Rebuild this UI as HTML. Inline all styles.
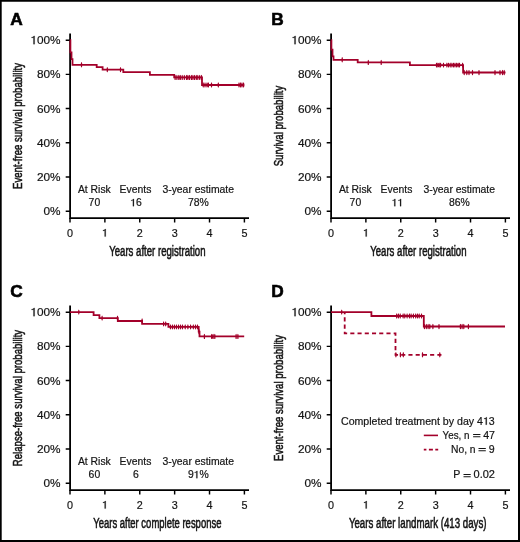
<!DOCTYPE html>
<html><head><meta charset="utf-8"><style>
html,body{margin:0;padding:0;background:#fff;}
body{width:520px;height:542px;overflow:hidden;}
svg{display:block;font-family:"Liberation Sans", sans-serif;will-change:transform;}
.r{fill:#141414;stroke:#141414;stroke-width:0.2px;}
.h{fill-opacity:0;stroke-opacity:0;}
</style></head><body>
<svg width="520" height="542" viewBox="0 0 520 542">
<rect width="520" height="542" fill="#fff"/>
<g transform="translate(0,0)">
<text x="10.2" y="24.8" font-weight="bold" font-size="17.3" fill="#000" stroke="#000" stroke-width="0.6">A</text>
<path d="M70.1,33.4 V218.95 M69.2,218.05 H249" stroke="#000" stroke-width="1.8" fill="none"/>
<path d="M65.7,40.15 H70 M65.7,74.35 H70 M65.7,108.55 H70 M65.7,142.75 H70 M65.7,176.95 H70 M65.7,211.15 H70 M70.00,218 V222.5 M104.88,218 V222.5 M139.76,218 V222.5 M174.64,218 V222.5 M209.52,218 V222.5 M244.40,218 V222.5" stroke="#000" stroke-width="1.45" fill="none"/>
<text x="30.42" y="44.15" font-size="11.8" class="r" text-anchor="start"><tspan class="h">1</tspan>00%</text><polygon points="33.44,44.15 34.64,44.15 34.64,35.89 33.82,35.89 33.61,36.36 33.18,36.74 32.50,37.00 31.60,37.16 31.60,37.92 32.66,37.75 33.44,37.45" class="r"/>
<text x="60.60" y="78.35" font-size="11.8" class="r" text-anchor="end">80%</text>
<text x="60.60" y="112.55" font-size="11.8" class="r" text-anchor="end">60%</text>
<text x="60.60" y="146.75" font-size="11.8" class="r" text-anchor="end">40%</text>
<text x="60.60" y="180.95" font-size="11.8" class="r" text-anchor="end">20%</text>
<text x="60.60" y="215.15" font-size="11.8" class="r" text-anchor="end">0%</text>
<text x="70.00" y="236.60" font-size="10.8" class="r" text-anchor="middle">0</text>
<text x="101.88" y="236.60" font-size="10.8" class="r" text-anchor="start"><tspan class="h">1</tspan></text><polygon points="104.64,236.60 105.74,236.60 105.74,229.04 104.99,229.04 104.79,229.47 104.40,229.82 103.78,230.06 102.96,230.21 102.96,230.90 103.93,230.75 104.64,230.47" class="r"/>
<text x="139.76" y="236.60" font-size="10.8" class="r" text-anchor="middle">2</text>
<text x="174.64" y="236.60" font-size="10.8" class="r" text-anchor="middle">3</text>
<text x="209.52" y="236.60" font-size="10.8" class="r" text-anchor="middle">4</text>
<text x="244.40" y="236.60" font-size="10.8" class="r" text-anchor="middle">5</text>
<text x="157.35" y="256.3" text-anchor="middle" font-size="14" fill="#141414" stroke="#141414" stroke-width="0.55" textLength="96.3" lengthAdjust="spacingAndGlyphs">Years after registration</text>
<text transform="translate(21.6,126.0) rotate(-90)" x="0" y="0" text-anchor="middle" font-size="13.4" fill="#141414" stroke="#141414" stroke-width="0.55" textLength="126" lengthAdjust="spacingAndGlyphs">Event-free survival probability</text>
</g>
<g transform="translate(0,0)" font-size="10.4" class="r" text-anchor="middle">
<text x="94.35" y="193.3">At Risk</text>
<text x="135.5" y="193.3">Events</text>
<text x="198.2" y="193.3">3-year estimate</text>
<text x="94.40" y="206.20" font-size="10.4" class="r" text-anchor="middle">70</text>
<text x="130.22" y="206.20" font-size="10.4" class="r" text-anchor="start"><tspan class="h">1</tspan>6</text><polygon points="132.88,206.20 133.94,206.20 133.94,198.92 133.21,198.92 133.02,199.34 132.65,199.67 132.05,199.90 131.26,200.04 131.26,200.71 132.19,200.56 132.88,200.29" class="r"/>
<text x="198.30" y="206.20" font-size="10.4" class="r" text-anchor="middle">78%</text>
</g>
<path d="M70,40.15 H70.4 V52.4 H71.5 V59.1 H72.5 V64.8 H96.7 V67.2 H102.6 V69.6 H123.3 V72.1 H149.9 V74.8 H174.2 V77.4 H202 V85 H244.2" stroke="#a3002a" stroke-width="1.8" fill="none"/>
<path d="M80.75,64.80 a0.75,2.7 0 1,0 1.50,0 a0.75,2.7 0 1,0 -1.50,0Z M106.55,69.60 a0.75,2.7 0 1,0 1.50,0 a0.75,2.7 0 1,0 -1.50,0Z M119.75,69.60 a0.75,2.7 0 1,0 1.50,0 a0.75,2.7 0 1,0 -1.50,0Z M174.35,77.40 a0.75,2.7 0 1,0 1.50,0 a0.75,2.7 0 1,0 -1.50,0Z M176.15,77.40 a0.75,2.7 0 1,0 1.50,0 a0.75,2.7 0 1,0 -1.50,0Z M178.05,77.40 a0.75,2.7 0 1,0 1.50,0 a0.75,2.7 0 1,0 -1.50,0Z M179.55,77.40 a0.75,2.7 0 1,0 1.50,0 a0.75,2.7 0 1,0 -1.50,0Z M181.45,77.40 a0.75,2.7 0 1,0 1.50,0 a0.75,2.7 0 1,0 -1.50,0Z M183.55,77.40 a0.75,2.7 0 1,0 1.50,0 a0.75,2.7 0 1,0 -1.50,0Z M185.75,77.40 a0.75,2.7 0 1,0 1.50,0 a0.75,2.7 0 1,0 -1.50,0Z M187.15,77.40 a0.75,2.7 0 1,0 1.50,0 a0.75,2.7 0 1,0 -1.50,0Z M188.75,77.40 a0.75,2.7 0 1,0 1.50,0 a0.75,2.7 0 1,0 -1.50,0Z M190.65,77.40 a0.75,2.7 0 1,0 1.50,0 a0.75,2.7 0 1,0 -1.50,0Z M192.15,77.40 a0.75,2.7 0 1,0 1.50,0 a0.75,2.7 0 1,0 -1.50,0Z M193.75,77.40 a0.75,2.7 0 1,0 1.50,0 a0.75,2.7 0 1,0 -1.50,0Z M195.55,77.40 a0.75,2.7 0 1,0 1.50,0 a0.75,2.7 0 1,0 -1.50,0Z M197.05,77.40 a0.75,2.7 0 1,0 1.50,0 a0.75,2.7 0 1,0 -1.50,0Z M198.95,77.40 a0.75,2.7 0 1,0 1.50,0 a0.75,2.7 0 1,0 -1.50,0Z M200.75,77.40 a0.75,2.7 0 1,0 1.50,0 a0.75,2.7 0 1,0 -1.50,0Z M202.45,85.00 a0.75,2.7 0 1,0 1.50,0 a0.75,2.7 0 1,0 -1.50,0Z M204.25,85.00 a0.75,2.7 0 1,0 1.50,0 a0.75,2.7 0 1,0 -1.50,0Z M206.25,85.00 a0.75,2.7 0 1,0 1.50,0 a0.75,2.7 0 1,0 -1.50,0Z M207.65,85.00 a0.75,2.7 0 1,0 1.50,0 a0.75,2.7 0 1,0 -1.50,0Z M210.75,85.00 a0.75,2.7 0 1,0 1.50,0 a0.75,2.7 0 1,0 -1.50,0Z M217.55,85.00 a0.75,2.7 0 1,0 1.50,0 a0.75,2.7 0 1,0 -1.50,0Z M238.25,85.00 a0.75,2.7 0 1,0 1.50,0 a0.75,2.7 0 1,0 -1.50,0Z M239.75,85.00 a0.75,2.7 0 1,0 1.50,0 a0.75,2.7 0 1,0 -1.50,0Z M241.25,85.00 a0.75,2.7 0 1,0 1.50,0 a0.75,2.7 0 1,0 -1.50,0Z M242.85,85.00 a0.75,2.7 0 1,0 1.50,0 a0.75,2.7 0 1,0 -1.50,0Z" fill="#a3002a"/>
<g transform="translate(261,0)">
<text x="10.2" y="24.8" font-weight="bold" font-size="17.3" fill="#000" stroke="#000" stroke-width="0.6">B</text>
<path d="M70.1,33.4 V218.95 M69.2,218.05 H249" stroke="#000" stroke-width="1.8" fill="none"/>
<path d="M65.7,40.15 H70 M65.7,74.35 H70 M65.7,108.55 H70 M65.7,142.75 H70 M65.7,176.95 H70 M65.7,211.15 H70 M70.00,218 V222.5 M104.88,218 V222.5 M139.76,218 V222.5 M174.64,218 V222.5 M209.52,218 V222.5 M244.40,218 V222.5" stroke="#000" stroke-width="1.45" fill="none"/>
<text x="30.42" y="44.15" font-size="11.8" class="r" text-anchor="start"><tspan class="h">1</tspan>00%</text><polygon points="33.44,44.15 34.64,44.15 34.64,35.89 33.82,35.89 33.61,36.36 33.18,36.74 32.50,37.00 31.60,37.16 31.60,37.92 32.66,37.75 33.44,37.45" class="r"/>
<text x="60.60" y="78.35" font-size="11.8" class="r" text-anchor="end">80%</text>
<text x="60.60" y="112.55" font-size="11.8" class="r" text-anchor="end">60%</text>
<text x="60.60" y="146.75" font-size="11.8" class="r" text-anchor="end">40%</text>
<text x="60.60" y="180.95" font-size="11.8" class="r" text-anchor="end">20%</text>
<text x="60.60" y="215.15" font-size="11.8" class="r" text-anchor="end">0%</text>
<text x="70.00" y="236.60" font-size="10.8" class="r" text-anchor="middle">0</text>
<text x="101.88" y="236.60" font-size="10.8" class="r" text-anchor="start"><tspan class="h">1</tspan></text><polygon points="104.64,236.60 105.74,236.60 105.74,229.04 104.99,229.04 104.79,229.47 104.40,229.82 103.78,230.06 102.96,230.21 102.96,230.90 103.93,230.75 104.64,230.47" class="r"/>
<text x="139.76" y="236.60" font-size="10.8" class="r" text-anchor="middle">2</text>
<text x="174.64" y="236.60" font-size="10.8" class="r" text-anchor="middle">3</text>
<text x="209.52" y="236.60" font-size="10.8" class="r" text-anchor="middle">4</text>
<text x="244.40" y="236.60" font-size="10.8" class="r" text-anchor="middle">5</text>
<text x="157.35" y="256.3" text-anchor="middle" font-size="14" fill="#141414" stroke="#141414" stroke-width="0.55" textLength="96.3" lengthAdjust="spacingAndGlyphs">Years after registration</text>
<text transform="translate(21.6,126.0) rotate(-90)" x="0" y="0" text-anchor="middle" font-size="13.4" fill="#141414" stroke="#141414" stroke-width="0.55" textLength="80.7" lengthAdjust="spacingAndGlyphs">Survival probability</text>
</g>
<g transform="translate(261,0)" font-size="10.4" class="r" text-anchor="middle">
<text x="94.35" y="193.3">At Risk</text>
<text x="135.5" y="193.3">Events</text>
<text x="198.2" y="193.3">3-year estimate</text>
<text x="94.40" y="206.20" font-size="10.4" class="r" text-anchor="middle">70</text>
<text x="130.60" y="206.20" font-size="10.4" class="r" text-anchor="start"><tspan class="h">1</tspan><tspan class="h">1</tspan></text><polygon points="133.26,206.20 134.33,206.20 134.33,198.92 133.60,198.92 133.41,199.34 133.04,199.67 132.43,199.90 131.64,200.04 131.64,200.71 132.58,200.56 133.26,200.29" class="r"/><polygon points="139.05,206.20 140.11,206.20 140.11,198.92 139.38,198.92 139.19,199.34 138.82,199.67 138.22,199.90 137.43,200.04 137.43,200.71 138.36,200.56 139.05,200.29" class="r"/>
<text x="198.30" y="206.20" font-size="10.4" class="r" text-anchor="middle">86%</text>
</g>
<path d="M331,40.15 H331.4 V49.6 H332.5 V56.4 H333.5 V59.8 H357.7 V62.4 H409.9 V65.1 H463.1 V72.5 H505.5" stroke="#a3002a" stroke-width="1.8" fill="none"/>
<path d="M341.45,59.80 a0.75,2.7 0 1,0 1.50,0 a0.75,2.7 0 1,0 -1.50,0Z M367.55,62.40 a0.75,2.7 0 1,0 1.50,0 a0.75,2.7 0 1,0 -1.50,0Z M380.45,62.40 a0.75,2.7 0 1,0 1.50,0 a0.75,2.7 0 1,0 -1.50,0Z M435.75,65.10 a0.75,2.7 0 1,0 1.50,0 a0.75,2.7 0 1,0 -1.50,0Z M437.15,65.10 a0.75,2.7 0 1,0 1.50,0 a0.75,2.7 0 1,0 -1.50,0Z M438.45,65.10 a0.75,2.7 0 1,0 1.50,0 a0.75,2.7 0 1,0 -1.50,0Z M439.85,65.10 a0.75,2.7 0 1,0 1.50,0 a0.75,2.7 0 1,0 -1.50,0Z M442.75,65.10 a0.75,2.7 0 1,0 1.50,0 a0.75,2.7 0 1,0 -1.50,0Z M446.15,65.10 a0.75,2.7 0 1,0 1.50,0 a0.75,2.7 0 1,0 -1.50,0Z M447.75,65.10 a0.75,2.7 0 1,0 1.50,0 a0.75,2.7 0 1,0 -1.50,0Z M449.45,65.10 a0.75,2.7 0 1,0 1.50,0 a0.75,2.7 0 1,0 -1.50,0Z M451.15,65.10 a0.75,2.7 0 1,0 1.50,0 a0.75,2.7 0 1,0 -1.50,0Z M452.75,65.10 a0.75,2.7 0 1,0 1.50,0 a0.75,2.7 0 1,0 -1.50,0Z M454.25,65.10 a0.75,2.7 0 1,0 1.50,0 a0.75,2.7 0 1,0 -1.50,0Z M455.85,65.10 a0.75,2.7 0 1,0 1.50,0 a0.75,2.7 0 1,0 -1.50,0Z M457.35,65.10 a0.75,2.7 0 1,0 1.50,0 a0.75,2.7 0 1,0 -1.50,0Z M458.75,65.10 a0.75,2.7 0 1,0 1.50,0 a0.75,2.7 0 1,0 -1.50,0Z M461.85,65.10 a0.75,2.7 0 1,0 1.50,0 a0.75,2.7 0 1,0 -1.50,0Z M463.45,72.50 a0.75,2.7 0 1,0 1.50,0 a0.75,2.7 0 1,0 -1.50,0Z M466.05,72.50 a0.75,2.7 0 1,0 1.50,0 a0.75,2.7 0 1,0 -1.50,0Z M468.25,72.50 a0.75,2.7 0 1,0 1.50,0 a0.75,2.7 0 1,0 -1.50,0Z M471.75,72.50 a0.75,2.7 0 1,0 1.50,0 a0.75,2.7 0 1,0 -1.50,0Z M478.25,72.50 a0.75,2.7 0 1,0 1.50,0 a0.75,2.7 0 1,0 -1.50,0Z M494.25,72.50 a0.75,2.7 0 1,0 1.50,0 a0.75,2.7 0 1,0 -1.50,0Z M499.25,72.50 a0.75,2.7 0 1,0 1.50,0 a0.75,2.7 0 1,0 -1.50,0Z M501.75,72.50 a0.75,2.7 0 1,0 1.50,0 a0.75,2.7 0 1,0 -1.50,0Z M503.45,72.50 a0.75,2.7 0 1,0 1.50,0 a0.75,2.7 0 1,0 -1.50,0Z" fill="#a3002a"/>
<g transform="translate(0,272)">
<text x="10.2" y="24.8" font-weight="bold" font-size="17.3" fill="#000" stroke="#000" stroke-width="0.6">C</text>
<path d="M70.1,33.4 V218.95 M69.2,218.05 H249" stroke="#000" stroke-width="1.8" fill="none"/>
<path d="M65.7,40.15 H70 M65.7,74.35 H70 M65.7,108.55 H70 M65.7,142.75 H70 M65.7,176.95 H70 M65.7,211.15 H70 M70.00,218 V222.5 M104.88,218 V222.5 M139.76,218 V222.5 M174.64,218 V222.5 M209.52,218 V222.5 M244.40,218 V222.5" stroke="#000" stroke-width="1.45" fill="none"/>
<text x="30.42" y="44.15" font-size="11.8" class="r" text-anchor="start"><tspan class="h">1</tspan>00%</text><polygon points="33.44,44.15 34.64,44.15 34.64,35.89 33.82,35.89 33.61,36.36 33.18,36.74 32.50,37.00 31.60,37.16 31.60,37.92 32.66,37.75 33.44,37.45" class="r"/>
<text x="60.60" y="78.35" font-size="11.8" class="r" text-anchor="end">80%</text>
<text x="60.60" y="112.55" font-size="11.8" class="r" text-anchor="end">60%</text>
<text x="60.60" y="146.75" font-size="11.8" class="r" text-anchor="end">40%</text>
<text x="60.60" y="180.95" font-size="11.8" class="r" text-anchor="end">20%</text>
<text x="60.60" y="215.15" font-size="11.8" class="r" text-anchor="end">0%</text>
<text x="70.00" y="236.60" font-size="10.8" class="r" text-anchor="middle">0</text>
<text x="101.88" y="236.60" font-size="10.8" class="r" text-anchor="start"><tspan class="h">1</tspan></text><polygon points="104.64,236.60 105.74,236.60 105.74,229.04 104.99,229.04 104.79,229.47 104.40,229.82 103.78,230.06 102.96,230.21 102.96,230.90 103.93,230.75 104.64,230.47" class="r"/>
<text x="139.76" y="236.60" font-size="10.8" class="r" text-anchor="middle">2</text>
<text x="174.64" y="236.60" font-size="10.8" class="r" text-anchor="middle">3</text>
<text x="209.52" y="236.60" font-size="10.8" class="r" text-anchor="middle">4</text>
<text x="244.40" y="236.60" font-size="10.8" class="r" text-anchor="middle">5</text>
<text x="157.35" y="256.3" text-anchor="middle" font-size="14" fill="#141414" stroke="#141414" stroke-width="0.55" textLength="128.2" lengthAdjust="spacingAndGlyphs">Years after complete response</text>
<text transform="translate(21.6,126.0) rotate(-90)" x="0" y="0" text-anchor="middle" font-size="13.4" fill="#141414" stroke="#141414" stroke-width="0.55" textLength="136.3" lengthAdjust="spacingAndGlyphs">Relapse-free survival probability</text>
</g>
<g transform="translate(0,272)" font-size="10.4" class="r" text-anchor="middle">
<text x="94.35" y="193.3">At Risk</text>
<text x="135.5" y="193.3">Events</text>
<text x="198.2" y="193.3">3-year estimate</text>
<text x="94.40" y="206.20" font-size="10.4" class="r" text-anchor="middle">60</text>
<text x="136.00" y="206.20" font-size="10.4" class="r" text-anchor="middle">6</text>
<text x="187.89" y="206.20" font-size="10.4" class="r" text-anchor="start">9<tspan class="h">1</tspan>%</text><polygon points="196.34,206.20 197.40,206.20 197.40,198.92 196.67,198.92 196.48,199.34 196.11,199.67 195.51,199.90 194.72,200.04 194.72,200.71 195.65,200.56 196.34,200.29" class="r"/>
</g>
<path d="M70,312.1 H93.6 V315.1 H99.4 V318.1 H117.8 V321.0 H142.1 V323.9 H168.4 V326.9 H198.7 V331.6 H199.5 V336.4 H244.2" stroke="#a3002a" stroke-width="1.8" fill="none"/>
<path d="M78.05,312.10 a0.75,2.7 0 1,0 1.50,0 a0.75,2.7 0 1,0 -1.50,0Z M101.35,318.10 a0.75,2.7 0 1,0 1.50,0 a0.75,2.7 0 1,0 -1.50,0Z M116.75,318.10 a0.75,2.7 0 1,0 1.50,0 a0.75,2.7 0 1,0 -1.50,0Z M141.35,321.00 a0.75,2.7 0 1,0 1.50,0 a0.75,2.7 0 1,0 -1.50,0Z M162.85,323.90 a0.75,2.7 0 1,0 1.50,0 a0.75,2.7 0 1,0 -1.50,0Z M164.95,323.90 a0.75,2.7 0 1,0 1.50,0 a0.75,2.7 0 1,0 -1.50,0Z M169.65,326.90 a0.75,2.7 0 1,0 1.50,0 a0.75,2.7 0 1,0 -1.50,0Z M171.65,326.90 a0.75,2.7 0 1,0 1.50,0 a0.75,2.7 0 1,0 -1.50,0Z M173.65,326.90 a0.75,2.7 0 1,0 1.50,0 a0.75,2.7 0 1,0 -1.50,0Z M175.65,326.90 a0.75,2.7 0 1,0 1.50,0 a0.75,2.7 0 1,0 -1.50,0Z M177.75,326.90 a0.75,2.7 0 1,0 1.50,0 a0.75,2.7 0 1,0 -1.50,0Z M179.75,326.90 a0.75,2.7 0 1,0 1.50,0 a0.75,2.7 0 1,0 -1.50,0Z M181.75,326.90 a0.75,2.7 0 1,0 1.50,0 a0.75,2.7 0 1,0 -1.50,0Z M184.45,326.90 a0.75,2.7 0 1,0 1.50,0 a0.75,2.7 0 1,0 -1.50,0Z M187.15,326.90 a0.75,2.7 0 1,0 1.50,0 a0.75,2.7 0 1,0 -1.50,0Z M189.85,326.90 a0.75,2.7 0 1,0 1.50,0 a0.75,2.7 0 1,0 -1.50,0Z M192.55,326.90 a0.75,2.7 0 1,0 1.50,0 a0.75,2.7 0 1,0 -1.50,0Z M194.75,326.90 a0.75,2.7 0 1,0 1.50,0 a0.75,2.7 0 1,0 -1.50,0Z M196.75,326.90 a0.75,2.7 0 1,0 1.50,0 a0.75,2.7 0 1,0 -1.50,0Z M198.25,331.60 a0.75,2.7 0 1,0 1.50,0 a0.75,2.7 0 1,0 -1.50,0Z M203.65,336.40 a0.75,2.7 0 1,0 1.50,0 a0.75,2.7 0 1,0 -1.50,0Z M210.95,336.40 a0.75,2.7 0 1,0 1.50,0 a0.75,2.7 0 1,0 -1.50,0Z M212.35,336.40 a0.75,2.7 0 1,0 1.50,0 a0.75,2.7 0 1,0 -1.50,0Z M214.05,336.40 a0.75,2.7 0 1,0 1.50,0 a0.75,2.7 0 1,0 -1.50,0Z M235.35,336.40 a0.75,2.7 0 1,0 1.50,0 a0.75,2.7 0 1,0 -1.50,0Z M237.15,336.40 a0.75,2.7 0 1,0 1.50,0 a0.75,2.7 0 1,0 -1.50,0Z" fill="#a3002a"/>
<g transform="translate(261,272)">
<text x="10.2" y="24.8" font-weight="bold" font-size="17.3" fill="#000" stroke="#000" stroke-width="0.6">D</text>
<path d="M70.1,33.4 V218.95 M69.2,218.05 H249" stroke="#000" stroke-width="1.8" fill="none"/>
<path d="M65.7,40.15 H70 M65.7,74.35 H70 M65.7,108.55 H70 M65.7,142.75 H70 M65.7,176.95 H70 M65.7,211.15 H70 M70.00,218 V222.5 M104.88,218 V222.5 M139.76,218 V222.5 M174.64,218 V222.5 M209.52,218 V222.5 M244.40,218 V222.5" stroke="#000" stroke-width="1.45" fill="none"/>
<text x="30.42" y="44.15" font-size="11.8" class="r" text-anchor="start"><tspan class="h">1</tspan>00%</text><polygon points="33.44,44.15 34.64,44.15 34.64,35.89 33.82,35.89 33.61,36.36 33.18,36.74 32.50,37.00 31.60,37.16 31.60,37.92 32.66,37.75 33.44,37.45" class="r"/>
<text x="60.60" y="78.35" font-size="11.8" class="r" text-anchor="end">80%</text>
<text x="60.60" y="112.55" font-size="11.8" class="r" text-anchor="end">60%</text>
<text x="60.60" y="146.75" font-size="11.8" class="r" text-anchor="end">40%</text>
<text x="60.60" y="180.95" font-size="11.8" class="r" text-anchor="end">20%</text>
<text x="60.60" y="215.15" font-size="11.8" class="r" text-anchor="end">0%</text>
<text x="70.00" y="236.60" font-size="10.8" class="r" text-anchor="middle">0</text>
<text x="101.88" y="236.60" font-size="10.8" class="r" text-anchor="start"><tspan class="h">1</tspan></text><polygon points="104.64,236.60 105.74,236.60 105.74,229.04 104.99,229.04 104.79,229.47 104.40,229.82 103.78,230.06 102.96,230.21 102.96,230.90 103.93,230.75 104.64,230.47" class="r"/>
<text x="139.76" y="236.60" font-size="10.8" class="r" text-anchor="middle">2</text>
<text x="174.64" y="236.60" font-size="10.8" class="r" text-anchor="middle">3</text>
<text x="209.52" y="236.60" font-size="10.8" class="r" text-anchor="middle">4</text>
<text x="244.40" y="236.60" font-size="10.8" class="r" text-anchor="middle">5</text>
<text x="156.7" y="256.3" text-anchor="middle" font-size="14" fill="#141414" stroke="#141414" stroke-width="0.55" textLength="137.6" lengthAdjust="spacingAndGlyphs">Years after landmark (413 days)</text>
<text transform="translate(21.6,126.0) rotate(-90)" x="0" y="0" text-anchor="middle" font-size="13.4" fill="#141414" stroke="#141414" stroke-width="0.55" textLength="126" lengthAdjust="spacingAndGlyphs">Event-free survival probability</text>
</g>
<path d="M331,312.1 H371.4 V316.0 H423.8 V326.5 H505" stroke="#a3002a" stroke-width="1.8" fill="none"/>
<path d="M395.95,316.00 a0.75,2.7 0 1,0 1.50,0 a0.75,2.7 0 1,0 -1.50,0Z M397.65,316.00 a0.75,2.7 0 1,0 1.50,0 a0.75,2.7 0 1,0 -1.50,0Z M399.45,316.00 a0.75,2.7 0 1,0 1.50,0 a0.75,2.7 0 1,0 -1.50,0Z M402.35,316.00 a0.75,2.7 0 1,0 1.50,0 a0.75,2.7 0 1,0 -1.50,0Z M404.05,316.00 a0.75,2.7 0 1,0 1.50,0 a0.75,2.7 0 1,0 -1.50,0Z M406.35,316.00 a0.75,2.7 0 1,0 1.50,0 a0.75,2.7 0 1,0 -1.50,0Z M408.65,316.00 a0.75,2.7 0 1,0 1.50,0 a0.75,2.7 0 1,0 -1.50,0Z M410.35,316.00 a0.75,2.7 0 1,0 1.50,0 a0.75,2.7 0 1,0 -1.50,0Z M412.65,316.00 a0.75,2.7 0 1,0 1.50,0 a0.75,2.7 0 1,0 -1.50,0Z M414.95,316.00 a0.75,2.7 0 1,0 1.50,0 a0.75,2.7 0 1,0 -1.50,0Z M416.75,316.00 a0.75,2.7 0 1,0 1.50,0 a0.75,2.7 0 1,0 -1.50,0Z M418.45,316.00 a0.75,2.7 0 1,0 1.50,0 a0.75,2.7 0 1,0 -1.50,0Z M420.75,316.00 a0.75,2.7 0 1,0 1.50,0 a0.75,2.7 0 1,0 -1.50,0Z M423.65,326.50 a0.75,2.7 0 1,0 1.50,0 a0.75,2.7 0 1,0 -1.50,0Z M425.55,326.50 a0.75,2.7 0 1,0 1.50,0 a0.75,2.7 0 1,0 -1.50,0Z M427.35,326.50 a0.75,2.7 0 1,0 1.50,0 a0.75,2.7 0 1,0 -1.50,0Z M429.05,326.50 a0.75,2.7 0 1,0 1.50,0 a0.75,2.7 0 1,0 -1.50,0Z M432.15,326.50 a0.75,2.7 0 1,0 1.50,0 a0.75,2.7 0 1,0 -1.50,0Z M438.25,326.50 a0.75,2.7 0 1,0 1.50,0 a0.75,2.7 0 1,0 -1.50,0Z M459.65,326.50 a0.75,2.7 0 1,0 1.50,0 a0.75,2.7 0 1,0 -1.50,0Z M461.35,326.50 a0.75,2.7 0 1,0 1.50,0 a0.75,2.7 0 1,0 -1.50,0Z M463.05,326.50 a0.75,2.7 0 1,0 1.50,0 a0.75,2.7 0 1,0 -1.50,0Z M467.65,326.50 a0.75,2.7 0 1,0 1.50,0 a0.75,2.7 0 1,0 -1.50,0Z M340.95,312.10 a0.75,2.7 0 1,0 1.50,0 a0.75,2.7 0 1,0 -1.50,0Z" fill="#a3002a"/>
<path d="M344.7,312.1 V333.4 H395.5 V354.8 H441.5" stroke="#a3002a" stroke-width="1.8" fill="none" stroke-dasharray="4.1 3.13" stroke-dashoffset="2.03"/>
<path d="M395.15,354.80 a0.75,2.7 0 1,0 1.50,0 a0.75,2.7 0 1,0 -1.50,0Z M399.65,354.80 a0.75,2.7 0 1,0 1.50,0 a0.75,2.7 0 1,0 -1.50,0Z M402.55,354.80 a0.75,2.7 0 1,0 1.50,0 a0.75,2.7 0 1,0 -1.50,0Z M421.75,354.80 a0.75,2.7 0 1,0 1.50,0 a0.75,2.7 0 1,0 -1.50,0Z M439.05,354.80 a0.75,2.7 0 1,0 1.50,0 a0.75,2.7 0 1,0 -1.50,0Z" fill="#a3002a"/>
<g font-size="10.6" class="r">
<text x="341.00" y="424.70" font-size="10.6" class="r" text-anchor="start">Completed treatment by day 4<tspan class="h">1</tspan>3</text><polygon points="485.71,424.70 486.79,424.70 486.79,417.28 486.05,417.28 485.86,417.70 485.48,418.04 484.86,418.28 484.06,418.42 484.06,419.10 485.01,418.95 485.71,418.68" class="r"/>
<text x="442.6" y="438.6" textLength="26.9" lengthAdjust="spacingAndGlyphs">Yes, n</text>
<text x="483.2" y="438.6" textLength="11.8" lengthAdjust="spacingAndGlyphs">47</text>
<text x="451.0" y="452.8" textLength="24.6" lengthAdjust="spacingAndGlyphs">No, n</text>
<text x="488.8" y="452.8">9</text>
<text x="453.3" y="478.4">P</text>
<text x="473.6" y="478.4" textLength="21.4" lengthAdjust="spacingAndGlyphs">0.02</text>
</g>
<path d="M473.1,434.5 H480.4 M473.1,436.75 H480.4 M478.5,448.5 H485.8 M478.5,450.75 H485.8 M463.5,474.5 H470.7 M463.5,476.75 H470.7" stroke="#141414" stroke-width="1.2" fill="none"/>
<path d="M423.8,435.4 H438" stroke="#a3002a" stroke-width="1.6"/>
<path d="M423.8,449.6 H426.4 M428.9,449.6 H432.9 M435.3,449.6 H438.2" stroke="#a3002a" stroke-width="1.7"/>
<path d="M0,0 H520 V1.7 H0 Z M0,0 H1.7 V542 H0 Z M518,0 H520 V542 H518 Z M0,540 H520 V542 H0 Z" fill="#000"/>
</svg>
</body></html>
